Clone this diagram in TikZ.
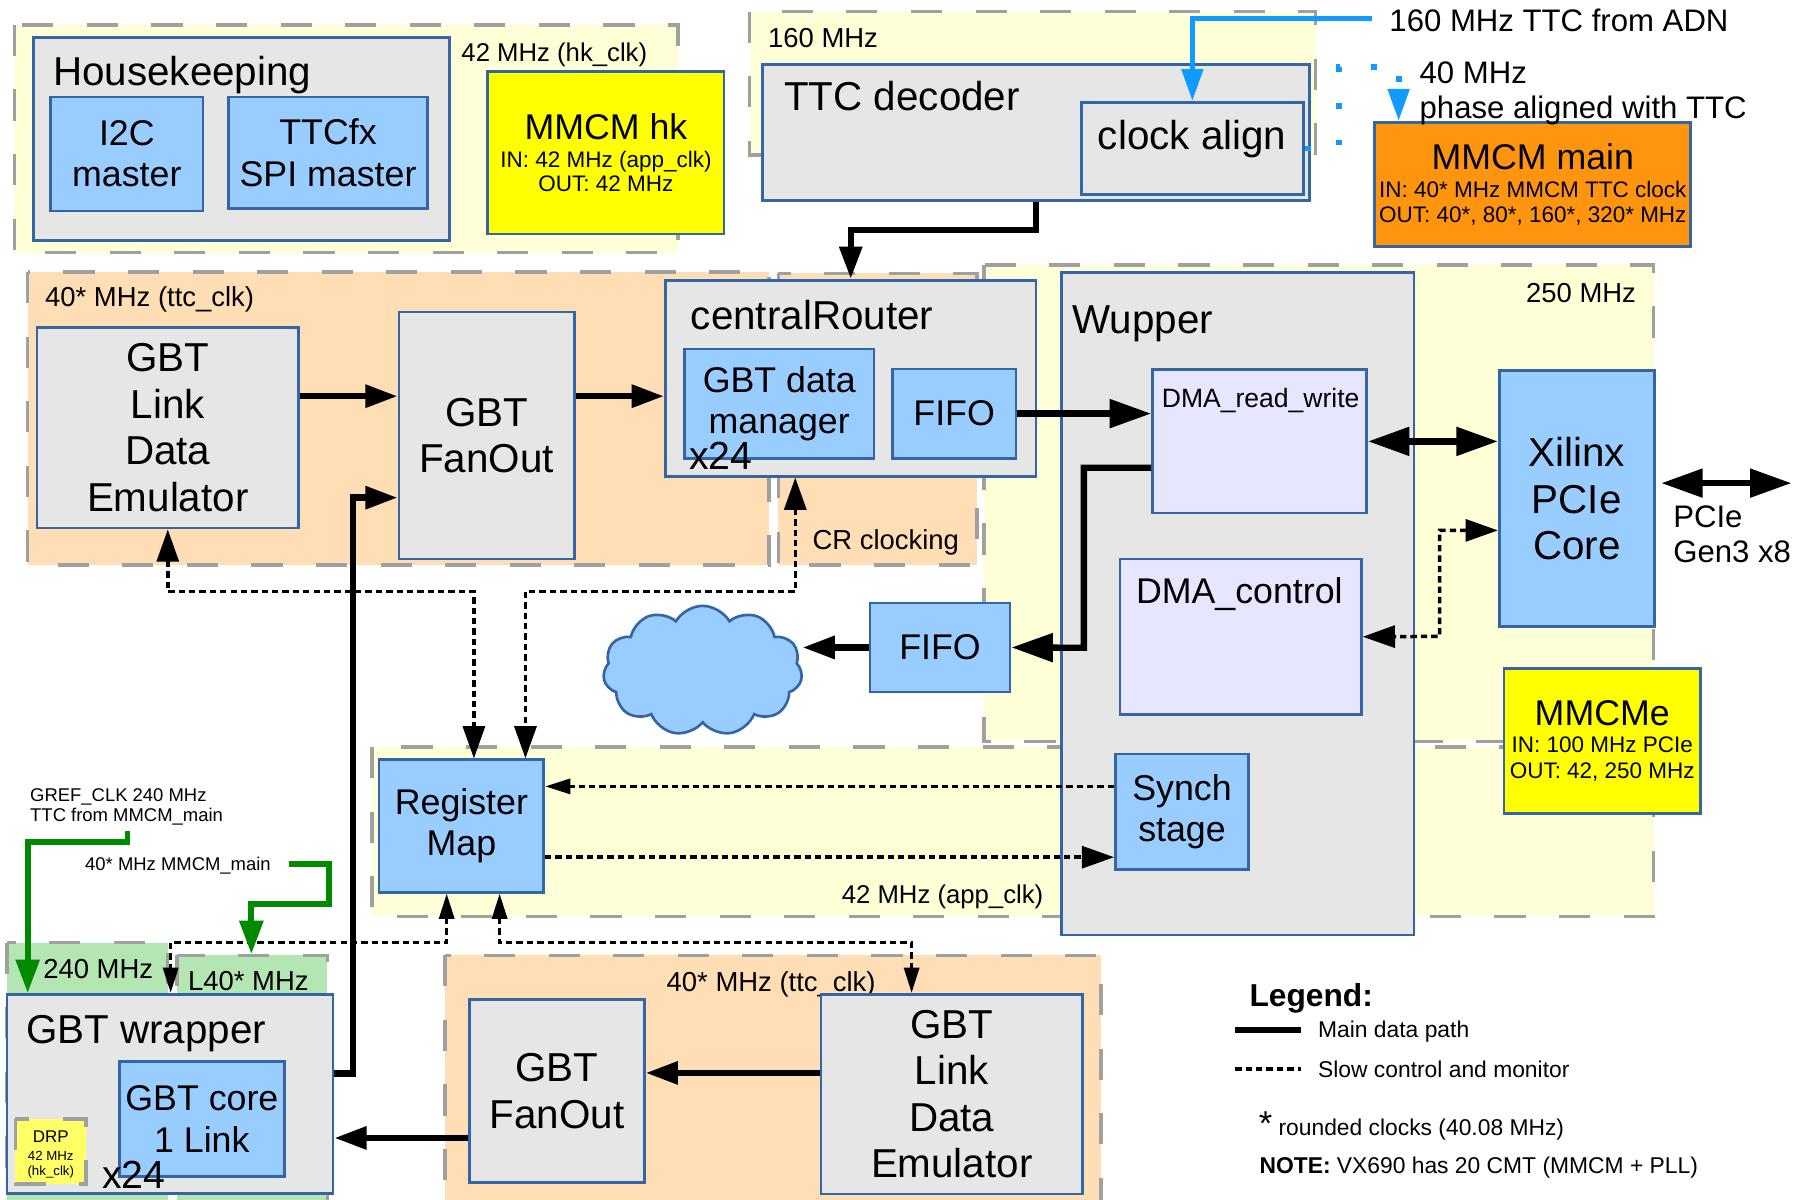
\documentclass[tikz,border=0pt]{standalone}
\usepackage{fontspec}
\setmainfont{Liberation Sans}
\usetikzlibrary{arrows.meta,shapes.symbols}
\definecolor{yelbg}{HTML}{FFFFD7}
\definecolor{orabg}{HTML}{FFDEB5}
\definecolor{grnbg}{HTML}{B3E6B3}
\definecolor{boxgray}{HTML}{E6E6E6}
\definecolor{boxblue}{HTML}{99CCFF}
\definecolor{boxlav}{HTML}{E6E6FF}
\definecolor{blkline}{HTML}{3465A4}
\definecolor{regline}{HTML}{A0A0A0}
\definecolor{pllyel}{HTML}{FFFF00}
\definecolor{pllora}{HTML}{FF950E}
\definecolor{drpyel}{HTML}{FFFF66}
\definecolor{clkgrn}{HTML}{008A00}
\definecolor{adnblue}{HTML}{119BFF}
\newcommand{\szBig}{\fontsize{35}{40.3}\selectfont}
\newcommand{\szMid}{\fontsize{31}{36}\selectfont}
\newcommand{\szX}{\fontsize{34}{38}\selectfont}
\newcommand{\szClk}{\fontsize{23.8}{27}\selectfont}
\newcommand{\szClkS}{\fontsize{22.3}{26}\selectfont}
\newcommand{\szExt}{\fontsize{27}{30}\selectfont}
\newcommand{\szPll}{\fontsize{19.5}{21.6}\selectfont}
\newcommand{\szNote}{\fontsize{19.8}{24}\selectfont}
\newcommand{\szTiny}{\fontsize{16}{17.7}\selectfont}
\tikzset{
  region/.style={draw=regline,line width=3pt,dash pattern=on 27pt off 29pt},
  blk/.style={draw=blkline,line width=2.3pt,inner sep=0pt,align=center},
  lbl/.style={inner sep=0pt,anchor=base west},
  datapath/.style={line width=5.5pt},
  ctrl/.style={line width=3pt,dash pattern=on 5.5pt off 3.5pt},
  clkgreen/.style={draw=clkgrn,line width=5pt},
  adn/.style={draw=adnblue,line width=5pt},
  adndot/.style={draw=adnblue,line width=5pt,dash pattern=on 5pt off 27pt},
  dtip/.tip={Triangle[length=28pt,width=19pt]},
  dwide/.tip={Triangle[length=36pt,width=24pt]},
  cbig/.tip={Triangle[length=28pt,width=19pt]},
  csmall/.tip={Triangle[length=22pt,width=13pt]},
  gtip/.tip={Triangle[length=29pt,width=20pt,color=clkgrn]},
  btip/.tip={Triangle[length=28pt,width=18pt,color=adnblue]}
}
\begin{document}
\begin{tikzpicture}[x=1pt,y=-1pt]
\useasboundingbox (0,0) rectangle (1568,1040);
% clock domains
\draw[region,fill=yelbg] (12.5,21.6) rectangle (588,219);
\draw[region,fill=yelbg] (650,10) rectangle (1141,134.5);
\draw[region,fill=orabg] (24,236) rectangle (667,490);
\draw[region,fill=orabg] (675,237) rectangle (847.4,490);
\draw[region,fill=yelbg] (853.4,230) rectangle (1434.2,643);
\draw[region,fill=yelbg] (322.7,648) rectangle (1434.2,794.7);
\draw[region,fill=grnbg] (6,817.6) rectangle (145.4,1046);
\draw[region,fill=grnbg] (153.4,828.5) rectangle (284,1046);
\draw[region,fill=orabg] (386,828.5) rectangle (954.9,1046);

\node[lbl,font=\szClkS] (hkclk) at (400,53) {42 MHz (hk\_clk)};
\node[lbl,font=\szClk] (ttcclk) at (666,41.5) {160 MHz};
\node[lbl,font=\szClk] (ttcclkA) at (39,266) {40* MHz (ttc\_clk)};
\node[lbl,font=\szClk] (crclk) at (704.5,476.5) {CR clocking};
\node[lbl,font=\szClk,anchor=base east] (pcieclk) at (1419,262.5) {250 MHz};
\node[lbl,font=\szClkS,anchor=base east] (appclk) at (905,783.7) {42 MHz (app\_clk)};
\node[lbl,font=\szClk] (gclk) at (37.4,848.5) {240 MHz};
\node[lbl,font=\szClk] (lclk) at (163,858.6) {L40* MHz};
\node[lbl,font=\szClk] (ttcclkB) at (578,860) {40* MHz (ttc\_clk)};

% housekeeping
\node[blk,fill=boxgray,minimum width=361pt,minimum height=176pt] (hk) at (209.5,120.5) {};
\node[lbl,font=\szBig] (hkt) at (46,74.5) {Housekeeping};
\node[blk,fill=boxblue,minimum width=132pt,minimum height=99pt,font=\szMid] (i2c) at (110,133.5) {I2C\\master};
\node[blk,fill=boxblue,minimum width=173pt,minimum height=97pt,font=\szMid] (ttcfx) at (284.5,132.5) {TTCfx\\SPI master};
\node[blk,fill=pllyel,minimum width=205pt,minimum height=141pt,font=\szPll] (mmcmhk) at (525.5,132.5) {{\szMid MMCM hk}\\[2.4pt]IN: 42 MHz (app\_clk)\\OUT: 42 MHz};

% ttc
\node[blk,fill=boxgray,minimum width=474.5pt,minimum height=118pt] (ttcdec) at (898.25,115) {};
\node[lbl,font=\szBig] (ttcdect) at (680,96) {TTC decoder};
\node[blk,fill=boxgray,minimum width=192.8pt,minimum height=79.6pt] (clkalign) at (1034.1,128.8) {};
\node[lbl,font=\szBig] (clkalignt) at (952,130) {clock align};
\node[blk,fill=pllora,minimum width=274pt,minimum height=107.8pt,font=\szPll] (mmcmmain) at (1329.3,160.1) {{\szMid MMCM main}\\[2.4pt]IN: 40* MHz MMCM TTC clock\\OUT: 40*, 80*, 160*, 320* MHz};
\node[lbl,font=\szExt] (adnt) at (1204.8,27) {160 MHz TTC from ADN};
\node[lbl,font=\szExt] (phaset) at (1231,72.7) {40 MHz};
\node[lbl,font=\szExt] (phaset2) at (1231,102.7) {phase aligned with TTC};

% gbt emulator chain
\node[blk,fill=boxgray,minimum width=227pt,minimum height=174pt,font=\szBig] (emuA) at (145.5,371) {GBT\\Link\\Data\\Emulator};
\node[blk,fill=boxgray,minimum width=152pt,minimum height=214.1pt,font=\szBig] (fanA) at (422,377.65) {GBT\\FanOut};
\node[blk,fill=boxgray,minimum width=321.6pt,minimum height=170pt] (crouter) at (737.8,328) {};
\node[lbl,font=\szBig] (croutert) at (599,286) {centralRouter};
\node[blk,fill=boxblue,minimum width=164.4pt,minimum height=94.9pt,font=\szMid] (gbtdm) at (675.8,350.25) {GBT data\\manager};
\node[lbl,font=\szX] (crx) at (597.6,407) {x24};
\node[blk,fill=boxblue,minimum width=107pt,minimum height=77.4pt,font=\szMid] (fifoA) at (827.5,358.7) {FIFO};

% wupper
\node[blk,fill=boxgray,minimum width=305.7pt,minimum height=574.6pt] (wupper) at (1073.55,523.7) {};
\node[lbl,font=\szBig] (wuppert) at (930,289) {Wupper};
\node[blk,fill=boxlav,minimum width=185.7pt,minimum height=124.2pt] (dmarw) at (1092.35,382.8) {};
\node[lbl,font=\fontsize{23}{26}\selectfont] (dmarwt) at (1007.5,353.5) {DMA\_read\_write};
\node[blk,fill=boxlav,minimum width=209.3pt,minimum height=135.1pt] (dmactl) at (1076,552.25) {};
\node[lbl,font=\szMid] (dmactlt) at (985,523) {DMA\_control};
\node[blk,fill=boxblue,minimum width=115.4pt,minimum height=100.1pt,font=\szMid] (synch) at (1025.1,703.95) {Synch\\stage};
\node[blk,fill=boxblue,minimum width=134.5pt,minimum height=222.2pt,font=\szBig] (xilinx) at (1367.45,432.5) {Xilinx\\PCIe\\Core};
\node[lbl,font=\szExt,align=left] (pciet) at (1451,487.7) {PCIe\\Gen3 x8};
\node[blk,fill=pllyel,minimum width=170.7pt,minimum height=125.3pt,font=\fontsize{19.5}{23}\selectfont] (mmcme) at (1389.55,642.65) {{\szMid MMCMe}\\IN: 100 MHz PCIe\\OUT: 42, 250 MHz};
\node[blk,fill=boxblue,minimum width=121.5pt,minimum height=77pt,font=\szMid] (fifoB) at (815.25,561.5) {FIFO};
\node[cloud,cloud puffs=11,cloud puff arc=120,aspect=1.53,draw=blkline,fill=boxblue,line width=2.3pt,inner sep=0pt,minimum width=172.7pt,minimum height=112.6pt] (hostcloud) at (609.4,581.7) {};
\node[blk,fill=boxblue,minimum width=142.9pt,minimum height=114.9pt,font=\szMid] (regmap) at (400.15,716.35) {Register\\Map};

% gbt wrapper
\node[lbl,font=\szTiny,align=left] (greft) at (26,712.7) {GREF\_CLK 240 MHz\\TTC from MMCM\_main};
\node[lbl,font=\szTiny] (mmcmt) at (73.7,754.7) {40* MHz MMCM\_main};
\node[blk,fill=boxgray,minimum width=282.8pt,minimum height=172.7pt] (wrapper) at (147.4,948.65) {};
\node[lbl,font=\szBig] (wrappert) at (22.4,905) {GBT wrapper};
\node[blk,fill=boxblue,minimum width=142.9pt,minimum height=100pt,font=\szMid] (gbtcore) at (175.05,970.6) {GBT core\\1 Link};
\draw[region,fill=drpyel] (13.4,970.3) rectangle (74.7,1027);
\node[inner sep=0pt,align=center,font=\fontsize{11.5}{12.6}\selectfont] (drp) at (44.05,1001) {{\fontsize{14.7}{16}\selectfont DRP}\\[3.6pt]42 MHz\\(hk\_clk)};
\node[lbl,font=\szX] (wrapx) at (88.6,1030.6) {x24};
\node[blk,fill=boxgray,minimum width=151.4pt,minimum height=159pt,font=\szBig] (fanB) at (483.1,946.1) {GBT\\FanOut};
\node[blk,fill=boxgray,minimum width=226.8pt,minimum height=173.3pt,font=\szBig] (emuB) at (825.4,948.95) {GBT\\Link\\Data\\Emulator};

% main data path
\draw[datapath,-dtip] (ttcdec.south) -- ++(0,24.5) -| (crouter.north);
\draw[datapath,-dtip] (emuA.east |- 0,343.6) -- (fanA.west |- 0,343.6);
\draw[datapath,-dtip] (fanA.east |- 0,343.6) -- (crouter.west |- 0,343.6);
\draw[datapath,-dtip] (wrapper.east |- 0,931) -| (306,431.6) -- (fanA.west |- 0,431.6);
\draw[datapath,-dwide] (fifoA.east) -- (fifoA.east -| dmarw.west);
\draw[datapath,dwide-dwide] (dmarw.east) -- (dmarw.east -| xilinx.west);
\coordinate (pcieint) at (1440.7,419);
\coordinate (pcieext) at (1553.7,419);
\draw[datapath,dwide-dwide] (pcieint) -- (pcieext);
\draw[datapath,-dwide] (dmarw.west |- 0,405.7) -| (940,561.8) -- (fifoB.east);
\draw[datapath,-dtip] (fifoB.west) -- (fifoB.west -| hostcloud.east);
\draw[datapath,-dtip] (emuB.west |- 0,930.5) -- (fanB.east |- 0,930.5);
\draw[datapath,-dtip] (fanB.west |- 0,986.9) -- (wrapper.east |- 0,986.9);

% slow control
\draw[ctrl,cbig-cbig] (emuA.south) |- (411,513) -- (411,0 |- regmap.north);
\draw[ctrl,cbig-cbig] (689.7,0 |- crouter.south) |- (455.7,513) -- (455.7,0 |- regmap.north);
\draw[ctrl,-csmall] (synch.west |- 0,682) -- (regmap.east |- 0,682);
\draw[ctrl,-cbig] (regmap.east |- 0,743.4) -- (synch.west |- 0,743.4);
\draw[ctrl,cbig-cbig] (xilinx.west |- 0,460) -| (1248.5,551.9) -- (dmactl.east);
\draw[ctrl,csmall-csmall] (387.4,0 |- regmap.south) |- (148,817.6) -- (148,0 |- wrapper.north);
\draw[ctrl,csmall-csmall] (433.3,0 |- regmap.south) |- (790.6,817.6) -- (790.6,0 |- emuB.north);

% clocks
\coordinate (adnsrc) at (1189.7,16);
\draw[adn,-btip] (adnsrc) -| (clkalign.north);
\draw[adndot,-btip] (clkalign.east) -| (1161,58) -| (1213,0 |- mmcmmain.north);
\coordinate (grefsrc) at (110.6,721);
\draw[clkgreen,-gtip] (grefsrc) |- (24,730.5) -- (24,0 |- wrapper.north);
\coordinate (mmcmsrc) at (250.5,749);
\coordinate (l40top) at (218,827.5);
\draw[clkgreen,-gtip] (mmcmsrc) -| (285.4,783.8) -| (l40top);

% legend
\node[lbl,font=\fontsize{27.5}{30}\selectfont\bfseries] (lgt) at (1083.5,872.5) {Legend:};
\coordinate (lgA) at (1071.3,893.3);
\coordinate (lgB) at (1128.7,893.3);
\draw[datapath] (lgA) -- (lgB);
\node[lbl,font=\szNote] (lgdata) at (1143,899.7) {Main data path};
\coordinate (lgC) at (1071.3,927.2);
\coordinate (lgD) at (1128.7,927.2);
\draw[ctrl] (lgC) -- (lgD);
\node[lbl,font=\szNote] (lgctrl) at (1143,934.4) {Slow control and monitor};
\node[lbl,font=\szNote] (lgstar) at (1091.5,984.4) {{\fontsize{30}{30}\selectfont *} rounded clocks (40.08 MHz)};
\node[lbl,font=\szNote] (lgnote) at (1092.2,1017.6) {\textbf{NOTE:} VX690 has 20 CMT (MMCM + PLL)};
\end{tikzpicture}
\end{document}
